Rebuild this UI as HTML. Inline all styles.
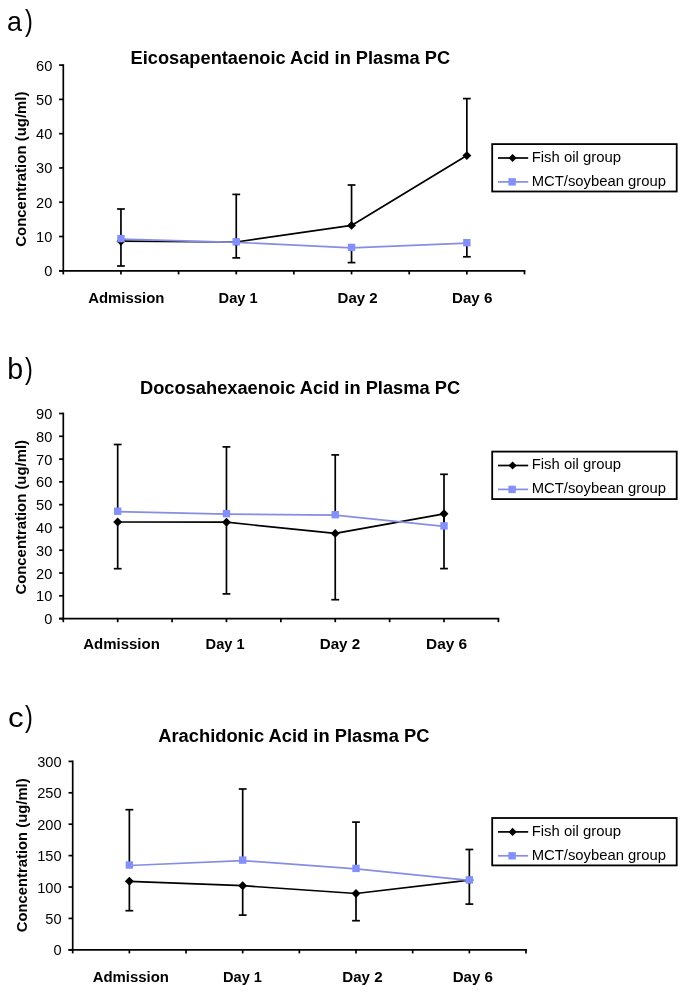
<!DOCTYPE html>
<html><head><meta charset="utf-8"><title>Plasma PC fatty acids</title>
<style>
html,body{margin:0;padding:0;background:#fff;}
body{width:685px;height:992px;overflow:hidden;}
svg{display:block;font-family:"Liberation Sans",sans-serif;will-change:transform;}
</style></head><body>
<svg width="685" height="992" viewBox="0 0 685 992">
<rect width="685" height="992" fill="#fff"/>
<text transform="translate(7,31) scale(0.97,1)" font-size="27.8">a</text>
<text transform="translate(25,31) scale(0.84,1.07)" font-size="28">)</text>
<text x="130.6" y="64.4" font-size="18" font-weight="bold" textLength="319.5" lengthAdjust="spacingAndGlyphs">Eicosapentaenoic Acid in Plasma PC</text>
<line x1="63.3" y1="64.25" x2="63.3" y2="274.4" stroke="#000" stroke-width="1.7"/>
<line x1="59.1" y1="270.8" x2="63.3" y2="270.8" stroke="#000" stroke-width="1.7"/>
<text x="52.3" y="276.3" font-size="14.6" text-anchor="end">0</text>
<line x1="59.1" y1="236.52" x2="63.3" y2="236.52" stroke="#000" stroke-width="1.7"/>
<text x="52.3" y="242.02" font-size="14.6" text-anchor="end">10</text>
<line x1="59.1" y1="202.23" x2="63.3" y2="202.23" stroke="#000" stroke-width="1.7"/>
<text x="52.3" y="207.73" font-size="14.6" text-anchor="end">20</text>
<line x1="59.1" y1="167.95" x2="63.3" y2="167.95" stroke="#000" stroke-width="1.7"/>
<text x="52.3" y="173.45" font-size="14.6" text-anchor="end">30</text>
<line x1="59.1" y1="133.67" x2="63.3" y2="133.67" stroke="#000" stroke-width="1.7"/>
<text x="52.3" y="139.17" font-size="14.6" text-anchor="end">40</text>
<line x1="59.1" y1="99.38" x2="63.3" y2="99.38" stroke="#000" stroke-width="1.7"/>
<text x="52.3" y="104.88" font-size="14.6" text-anchor="end">50</text>
<line x1="59.1" y1="65.1" x2="63.3" y2="65.1" stroke="#000" stroke-width="1.7"/>
<text x="52.3" y="70.6" font-size="14.6" text-anchor="end">60</text>
<line x1="59.1" y1="270.8" x2="525.35" y2="270.8" stroke="#000" stroke-width="1.7"/>
<line x1="120.95" y1="270.8" x2="120.95" y2="274.4" stroke="#000" stroke-width="1.7"/>
<line x1="178.6" y1="270.8" x2="178.6" y2="274.4" stroke="#000" stroke-width="1.7"/>
<line x1="236.25" y1="270.8" x2="236.25" y2="274.4" stroke="#000" stroke-width="1.7"/>
<line x1="293.9" y1="270.8" x2="293.9" y2="274.4" stroke="#000" stroke-width="1.7"/>
<line x1="351.55" y1="270.8" x2="351.55" y2="274.4" stroke="#000" stroke-width="1.7"/>
<line x1="409.2" y1="270.8" x2="409.2" y2="274.4" stroke="#000" stroke-width="1.7"/>
<line x1="466.85" y1="270.8" x2="466.85" y2="274.4" stroke="#000" stroke-width="1.7"/>
<line x1="524.5" y1="270.8" x2="524.5" y2="274.4" stroke="#000" stroke-width="1.7"/>
<text x="88.2" y="302.5" font-size="14.5" font-weight="bold" textLength="76.2" lengthAdjust="spacingAndGlyphs">Admission</text>
<text x="218.6" y="302.5" font-size="14.5" font-weight="bold" textLength="39" lengthAdjust="spacingAndGlyphs">Day 1</text>
<text x="337.6" y="302.5" font-size="14.5" font-weight="bold" textLength="40.1" lengthAdjust="spacingAndGlyphs">Day 2</text>
<text x="452" y="302.5" font-size="14.5" font-weight="bold" textLength="40.4" lengthAdjust="spacingAndGlyphs">Day 6</text>
<text transform="translate(25.9,246.8) rotate(-90)" x="0" y="0" font-size="14.5" font-weight="bold" textLength="155.3" lengthAdjust="spacingAndGlyphs">Concentration (ug/ml)</text>
<line x1="120.95" y1="241.2" x2="120.95" y2="209" stroke="#000" stroke-width="1.7"/>
<line x1="117.05" y1="209" x2="124.85" y2="209" stroke="#000" stroke-width="1.7"/>
<line x1="120.95" y1="238.6" x2="120.95" y2="266" stroke="#000" stroke-width="1.7"/>
<line x1="117.05" y1="266" x2="124.85" y2="266" stroke="#000" stroke-width="1.7"/>
<line x1="236.25" y1="242" x2="236.25" y2="194.4" stroke="#000" stroke-width="1.7"/>
<line x1="232.35" y1="194.4" x2="240.15" y2="194.4" stroke="#000" stroke-width="1.7"/>
<line x1="236.25" y1="241.8" x2="236.25" y2="257.9" stroke="#000" stroke-width="1.7"/>
<line x1="232.35" y1="257.9" x2="240.15" y2="257.9" stroke="#000" stroke-width="1.7"/>
<line x1="351.55" y1="225.4" x2="351.55" y2="185" stroke="#000" stroke-width="1.7"/>
<line x1="347.65" y1="185" x2="355.45" y2="185" stroke="#000" stroke-width="1.7"/>
<line x1="351.55" y1="247.4" x2="351.55" y2="262.6" stroke="#000" stroke-width="1.7"/>
<line x1="347.65" y1="262.6" x2="355.45" y2="262.6" stroke="#000" stroke-width="1.7"/>
<line x1="466.85" y1="155.6" x2="466.85" y2="98.6" stroke="#000" stroke-width="1.7"/>
<line x1="462.95" y1="98.6" x2="470.75" y2="98.6" stroke="#000" stroke-width="1.7"/>
<line x1="466.85" y1="242.7" x2="466.85" y2="256.8" stroke="#000" stroke-width="1.7"/>
<line x1="462.95" y1="256.8" x2="470.75" y2="256.8" stroke="#000" stroke-width="1.7"/>
<polyline points="120.95,241.2 236.25,242 351.55,225.4 466.85,155.6" fill="none" stroke="#000" stroke-width="1.7" stroke-linejoin="round"/>
<path d="M120.95 236.75L125.4 241.2L120.95 245.65L116.5 241.2Z" fill="#000"/>
<path d="M236.25 237.55L240.7 242L236.25 246.45L231.8 242Z" fill="#000"/>
<path d="M351.55 220.95L356 225.4L351.55 229.85L347.1 225.4Z" fill="#000"/>
<path d="M466.85 151.15L471.3 155.6L466.85 160.05L462.4 155.6Z" fill="#000"/>
<polyline points="120.95,239.1 236.25,242.3 351.55,247.9 466.85,243.2" fill="none" stroke="#878DE2" stroke-width="1.7" stroke-linejoin="round"/>
<rect x="117.25" y="234.9" width="7.4" height="7.4" fill="#8490FA"/>
<rect x="232.55" y="238.1" width="7.4" height="7.4" fill="#8490FA"/>
<rect x="347.85" y="243.7" width="7.4" height="7.4" fill="#8490FA"/>
<rect x="463.15" y="239" width="7.4" height="7.4" fill="#8490FA"/>
<rect x="492.2" y="144.1" width="184.5" height="47.4" fill="#fff" stroke="#000" stroke-width="1.8"/>
<line x1="498" y1="158" x2="528.2" y2="158" stroke="#000" stroke-width="1.7"/>
<path d="M512.6 153.9L516.7 158L512.6 162.1L508.5 158Z" fill="#000"/>
<line x1="498" y1="181.9" x2="528.2" y2="181.9" stroke="#878DE2" stroke-width="1.7"/>
<rect x="508.4" y="178.2" width="7.4" height="7.4" fill="#8490FA"/>
<text x="531.7" y="161.9" font-size="14" textLength="89.3" lengthAdjust="spacingAndGlyphs">Fish oil group</text>
<text x="531.7" y="185.6" font-size="14" textLength="134.3" lengthAdjust="spacingAndGlyphs">MCT/soybean group</text>
<text transform="translate(7.2,378.8) scale(1.0,1)" font-size="28.6">b</text>
<text transform="translate(25,378.8) scale(0.84,1.07)" font-size="28">)</text>
<text x="140" y="393.9" font-size="18" font-weight="bold" textLength="320.1" lengthAdjust="spacingAndGlyphs">Docosahexaenoic Acid in Plasma PC</text>
<line x1="63.3" y1="412.65" x2="63.3" y2="622.2" stroke="#000" stroke-width="1.7"/>
<line x1="59.1" y1="618.6" x2="63.3" y2="618.6" stroke="#000" stroke-width="1.7"/>
<text x="52.3" y="624.1" font-size="14.6" text-anchor="end">0</text>
<line x1="59.1" y1="595.81" x2="63.3" y2="595.81" stroke="#000" stroke-width="1.7"/>
<text x="52.3" y="601.31" font-size="14.6" text-anchor="end">10</text>
<line x1="59.1" y1="573.02" x2="63.3" y2="573.02" stroke="#000" stroke-width="1.7"/>
<text x="52.3" y="578.52" font-size="14.6" text-anchor="end">20</text>
<line x1="59.1" y1="550.23" x2="63.3" y2="550.23" stroke="#000" stroke-width="1.7"/>
<text x="52.3" y="555.73" font-size="14.6" text-anchor="end">30</text>
<line x1="59.1" y1="527.44" x2="63.3" y2="527.44" stroke="#000" stroke-width="1.7"/>
<text x="52.3" y="532.94" font-size="14.6" text-anchor="end">40</text>
<line x1="59.1" y1="504.66" x2="63.3" y2="504.66" stroke="#000" stroke-width="1.7"/>
<text x="52.3" y="510.16" font-size="14.6" text-anchor="end">50</text>
<line x1="59.1" y1="481.87" x2="63.3" y2="481.87" stroke="#000" stroke-width="1.7"/>
<text x="52.3" y="487.37" font-size="14.6" text-anchor="end">60</text>
<line x1="59.1" y1="459.08" x2="63.3" y2="459.08" stroke="#000" stroke-width="1.7"/>
<text x="52.3" y="464.58" font-size="14.6" text-anchor="end">70</text>
<line x1="59.1" y1="436.29" x2="63.3" y2="436.29" stroke="#000" stroke-width="1.7"/>
<text x="52.3" y="441.79" font-size="14.6" text-anchor="end">80</text>
<line x1="59.1" y1="413.5" x2="63.3" y2="413.5" stroke="#000" stroke-width="1.7"/>
<text x="52.3" y="419" font-size="14.6" text-anchor="end">90</text>
<line x1="59.1" y1="618.6" x2="499.25" y2="618.6" stroke="#000" stroke-width="1.7"/>
<line x1="117.69" y1="618.6" x2="117.69" y2="622.2" stroke="#000" stroke-width="1.7"/>
<line x1="172.07" y1="618.6" x2="172.07" y2="622.2" stroke="#000" stroke-width="1.7"/>
<line x1="226.46" y1="618.6" x2="226.46" y2="622.2" stroke="#000" stroke-width="1.7"/>
<line x1="280.85" y1="618.6" x2="280.85" y2="622.2" stroke="#000" stroke-width="1.7"/>
<line x1="335.24" y1="618.6" x2="335.24" y2="622.2" stroke="#000" stroke-width="1.7"/>
<line x1="389.62" y1="618.6" x2="389.62" y2="622.2" stroke="#000" stroke-width="1.7"/>
<line x1="444.01" y1="618.6" x2="444.01" y2="622.2" stroke="#000" stroke-width="1.7"/>
<line x1="498.4" y1="618.6" x2="498.4" y2="622.2" stroke="#000" stroke-width="1.7"/>
<text x="83.2" y="649" font-size="14.5" font-weight="bold" textLength="76.6" lengthAdjust="spacingAndGlyphs">Admission</text>
<text x="205.6" y="649" font-size="14.5" font-weight="bold" textLength="39" lengthAdjust="spacingAndGlyphs">Day 1</text>
<text x="319.7" y="649" font-size="14.5" font-weight="bold" textLength="40.5" lengthAdjust="spacingAndGlyphs">Day 2</text>
<text x="426" y="649" font-size="14.5" font-weight="bold" textLength="41.2" lengthAdjust="spacingAndGlyphs">Day 6</text>
<text transform="translate(25.9,594.6) rotate(-90)" x="0" y="0" font-size="14.5" font-weight="bold" textLength="154.6" lengthAdjust="spacingAndGlyphs">Concentration (ug/ml)</text>
<line x1="117.69" y1="511.2" x2="117.69" y2="444.5" stroke="#000" stroke-width="1.7"/>
<line x1="113.79" y1="444.5" x2="121.59" y2="444.5" stroke="#000" stroke-width="1.7"/>
<line x1="117.69" y1="522" x2="117.69" y2="568.7" stroke="#000" stroke-width="1.7"/>
<line x1="113.79" y1="568.7" x2="121.59" y2="568.7" stroke="#000" stroke-width="1.7"/>
<line x1="226.46" y1="513.6" x2="226.46" y2="446.9" stroke="#000" stroke-width="1.7"/>
<line x1="222.56" y1="446.9" x2="230.36" y2="446.9" stroke="#000" stroke-width="1.7"/>
<line x1="226.46" y1="522.2" x2="226.46" y2="593.9" stroke="#000" stroke-width="1.7"/>
<line x1="222.56" y1="593.9" x2="230.36" y2="593.9" stroke="#000" stroke-width="1.7"/>
<line x1="335.24" y1="514.7" x2="335.24" y2="454.9" stroke="#000" stroke-width="1.7"/>
<line x1="331.34" y1="454.9" x2="339.14" y2="454.9" stroke="#000" stroke-width="1.7"/>
<line x1="335.24" y1="533.4" x2="335.24" y2="599.7" stroke="#000" stroke-width="1.7"/>
<line x1="331.34" y1="599.7" x2="339.14" y2="599.7" stroke="#000" stroke-width="1.7"/>
<line x1="444.01" y1="525.9" x2="444.01" y2="474.3" stroke="#000" stroke-width="1.7"/>
<line x1="440.11" y1="474.3" x2="447.91" y2="474.3" stroke="#000" stroke-width="1.7"/>
<line x1="444.01" y1="513.8" x2="444.01" y2="568.6" stroke="#000" stroke-width="1.7"/>
<line x1="440.11" y1="568.6" x2="447.91" y2="568.6" stroke="#000" stroke-width="1.7"/>
<polyline points="117.69,522 226.46,522.2 335.24,533.4 444.01,513.8" fill="none" stroke="#000" stroke-width="1.7" stroke-linejoin="round"/>
<path d="M117.69 517.55L122.14 522L117.69 526.45L113.24 522Z" fill="#000"/>
<path d="M226.46 517.75L230.91 522.2L226.46 526.65L222.01 522.2Z" fill="#000"/>
<path d="M335.24 528.95L339.69 533.4L335.24 537.85L330.79 533.4Z" fill="#000"/>
<path d="M444.01 509.35L448.46 513.8L444.01 518.25L439.56 513.8Z" fill="#000"/>
<polyline points="117.69,511.7 226.46,514.1 335.24,515.2 444.01,526.4" fill="none" stroke="#878DE2" stroke-width="1.7" stroke-linejoin="round"/>
<rect x="113.99" y="507.5" width="7.4" height="7.4" fill="#8490FA"/>
<rect x="222.76" y="509.9" width="7.4" height="7.4" fill="#8490FA"/>
<rect x="331.54" y="511" width="7.4" height="7.4" fill="#8490FA"/>
<rect x="440.31" y="522.2" width="7.4" height="7.4" fill="#8490FA"/>
<rect x="492.2" y="451.6" width="184.5" height="47.5" fill="#fff" stroke="#000" stroke-width="1.8"/>
<line x1="498" y1="465.5" x2="528.2" y2="465.5" stroke="#000" stroke-width="1.7"/>
<path d="M512.6 461.4L516.7 465.5L512.6 469.6L508.5 465.5Z" fill="#000"/>
<line x1="498" y1="489.4" x2="528.2" y2="489.4" stroke="#878DE2" stroke-width="1.7"/>
<rect x="508.4" y="485.7" width="7.4" height="7.4" fill="#8490FA"/>
<text x="531.7" y="469.4" font-size="14" textLength="89.3" lengthAdjust="spacingAndGlyphs">Fish oil group</text>
<text x="531.7" y="493.1" font-size="14" textLength="134.3" lengthAdjust="spacingAndGlyphs">MCT/soybean group</text>
<text transform="translate(7.9,727) scale(1.12,1)" font-size="28">c</text>
<text transform="translate(25,727) scale(0.84,1.07)" font-size="28">)</text>
<text x="158.2" y="741.9" font-size="18" font-weight="bold" textLength="271.2" lengthAdjust="spacingAndGlyphs">Arachidonic Acid in Plasma PC</text>
<line x1="72.7" y1="760.55" x2="72.7" y2="953.4" stroke="#000" stroke-width="1.7"/>
<line x1="68.5" y1="949.8" x2="72.7" y2="949.8" stroke="#000" stroke-width="1.7"/>
<text x="61.6" y="955.3" font-size="14.6" text-anchor="end">0</text>
<line x1="68.5" y1="918.4" x2="72.7" y2="918.4" stroke="#000" stroke-width="1.7"/>
<text x="61.6" y="923.9" font-size="14.6" text-anchor="end">50</text>
<line x1="68.5" y1="887" x2="72.7" y2="887" stroke="#000" stroke-width="1.7"/>
<text x="61.6" y="892.5" font-size="14.6" text-anchor="end">100</text>
<line x1="68.5" y1="855.6" x2="72.7" y2="855.6" stroke="#000" stroke-width="1.7"/>
<text x="61.6" y="861.1" font-size="14.6" text-anchor="end">150</text>
<line x1="68.5" y1="824.2" x2="72.7" y2="824.2" stroke="#000" stroke-width="1.7"/>
<text x="61.6" y="829.7" font-size="14.6" text-anchor="end">200</text>
<line x1="68.5" y1="792.8" x2="72.7" y2="792.8" stroke="#000" stroke-width="1.7"/>
<text x="61.6" y="798.3" font-size="14.6" text-anchor="end">250</text>
<line x1="68.5" y1="761.4" x2="72.7" y2="761.4" stroke="#000" stroke-width="1.7"/>
<text x="61.6" y="766.9" font-size="14.6" text-anchor="end">300</text>
<line x1="68.5" y1="949.8" x2="526.85" y2="949.8" stroke="#000" stroke-width="1.7"/>
<line x1="129.36" y1="949.8" x2="129.36" y2="953.4" stroke="#000" stroke-width="1.7"/>
<line x1="186.03" y1="949.8" x2="186.03" y2="953.4" stroke="#000" stroke-width="1.7"/>
<line x1="242.69" y1="949.8" x2="242.69" y2="953.4" stroke="#000" stroke-width="1.7"/>
<line x1="299.35" y1="949.8" x2="299.35" y2="953.4" stroke="#000" stroke-width="1.7"/>
<line x1="356.01" y1="949.8" x2="356.01" y2="953.4" stroke="#000" stroke-width="1.7"/>
<line x1="412.68" y1="949.8" x2="412.68" y2="953.4" stroke="#000" stroke-width="1.7"/>
<line x1="469.34" y1="949.8" x2="469.34" y2="953.4" stroke="#000" stroke-width="1.7"/>
<line x1="526" y1="949.8" x2="526" y2="953.4" stroke="#000" stroke-width="1.7"/>
<text x="92.7" y="981.6" font-size="14.5" font-weight="bold" textLength="76.3" lengthAdjust="spacingAndGlyphs">Admission</text>
<text x="223" y="981.6" font-size="14.5" font-weight="bold" textLength="39" lengthAdjust="spacingAndGlyphs">Day 1</text>
<text x="342.3" y="981.6" font-size="14.5" font-weight="bold" textLength="40.3" lengthAdjust="spacingAndGlyphs">Day 2</text>
<text x="452.7" y="981.6" font-size="14.5" font-weight="bold" textLength="40.2" lengthAdjust="spacingAndGlyphs">Day 6</text>
<text transform="translate(26.9,932.2) rotate(-90)" x="0" y="0" font-size="14.5" font-weight="bold" textLength="153.8" lengthAdjust="spacingAndGlyphs">Concentration (ug/ml)</text>
<line x1="129.36" y1="865" x2="129.36" y2="809.7" stroke="#000" stroke-width="1.7"/>
<line x1="125.46" y1="809.7" x2="133.26" y2="809.7" stroke="#000" stroke-width="1.7"/>
<line x1="129.36" y1="881.3" x2="129.36" y2="910.7" stroke="#000" stroke-width="1.7"/>
<line x1="125.46" y1="910.7" x2="133.26" y2="910.7" stroke="#000" stroke-width="1.7"/>
<line x1="242.69" y1="860.1" x2="242.69" y2="789" stroke="#000" stroke-width="1.7"/>
<line x1="238.79" y1="789" x2="246.59" y2="789" stroke="#000" stroke-width="1.7"/>
<line x1="242.69" y1="885.7" x2="242.69" y2="915.1" stroke="#000" stroke-width="1.7"/>
<line x1="238.79" y1="915.1" x2="246.59" y2="915.1" stroke="#000" stroke-width="1.7"/>
<line x1="356.01" y1="868.4" x2="356.01" y2="822.1" stroke="#000" stroke-width="1.7"/>
<line x1="352.11" y1="822.1" x2="359.91" y2="822.1" stroke="#000" stroke-width="1.7"/>
<line x1="356.01" y1="893.5" x2="356.01" y2="920.7" stroke="#000" stroke-width="1.7"/>
<line x1="352.11" y1="920.7" x2="359.91" y2="920.7" stroke="#000" stroke-width="1.7"/>
<line x1="469.34" y1="879.9" x2="469.34" y2="849.5" stroke="#000" stroke-width="1.7"/>
<line x1="465.44" y1="849.5" x2="473.24" y2="849.5" stroke="#000" stroke-width="1.7"/>
<line x1="469.34" y1="880.1" x2="469.34" y2="904.1" stroke="#000" stroke-width="1.7"/>
<line x1="465.44" y1="904.1" x2="473.24" y2="904.1" stroke="#000" stroke-width="1.7"/>
<polyline points="129.36,881.3 242.69,885.7 356.01,893.5 469.34,880.1" fill="none" stroke="#000" stroke-width="1.7" stroke-linejoin="round"/>
<path d="M129.36 876.85L133.81 881.3L129.36 885.75L124.91 881.3Z" fill="#000"/>
<path d="M242.69 881.25L247.14 885.7L242.69 890.15L238.24 885.7Z" fill="#000"/>
<path d="M356.01 889.05L360.46 893.5L356.01 897.95L351.56 893.5Z" fill="#000"/>
<path d="M469.34 875.65L473.79 880.1L469.34 884.55L464.89 880.1Z" fill="#000"/>
<polyline points="129.36,865.5 242.69,860.6 356.01,868.9 469.34,880.4" fill="none" stroke="#878DE2" stroke-width="1.7" stroke-linejoin="round"/>
<rect x="125.66" y="861.3" width="7.4" height="7.4" fill="#8490FA"/>
<rect x="238.99" y="856.4" width="7.4" height="7.4" fill="#8490FA"/>
<rect x="352.31" y="864.7" width="7.4" height="7.4" fill="#8490FA"/>
<rect x="465.64" y="876.2" width="7.4" height="7.4" fill="#8490FA"/>
<rect x="492.2" y="818" width="184.5" height="47.4" fill="#fff" stroke="#000" stroke-width="1.8"/>
<line x1="498" y1="831.9" x2="528.2" y2="831.9" stroke="#000" stroke-width="1.7"/>
<path d="M512.6 827.8L516.7 831.9L512.6 836L508.5 831.9Z" fill="#000"/>
<line x1="498" y1="855.8" x2="528.2" y2="855.8" stroke="#878DE2" stroke-width="1.7"/>
<rect x="508.4" y="852.1" width="7.4" height="7.4" fill="#8490FA"/>
<text x="531.7" y="835.8" font-size="14" textLength="89.3" lengthAdjust="spacingAndGlyphs">Fish oil group</text>
<text x="531.7" y="859.5" font-size="14" textLength="134.3" lengthAdjust="spacingAndGlyphs">MCT/soybean group</text>
</svg>
</body></html>
